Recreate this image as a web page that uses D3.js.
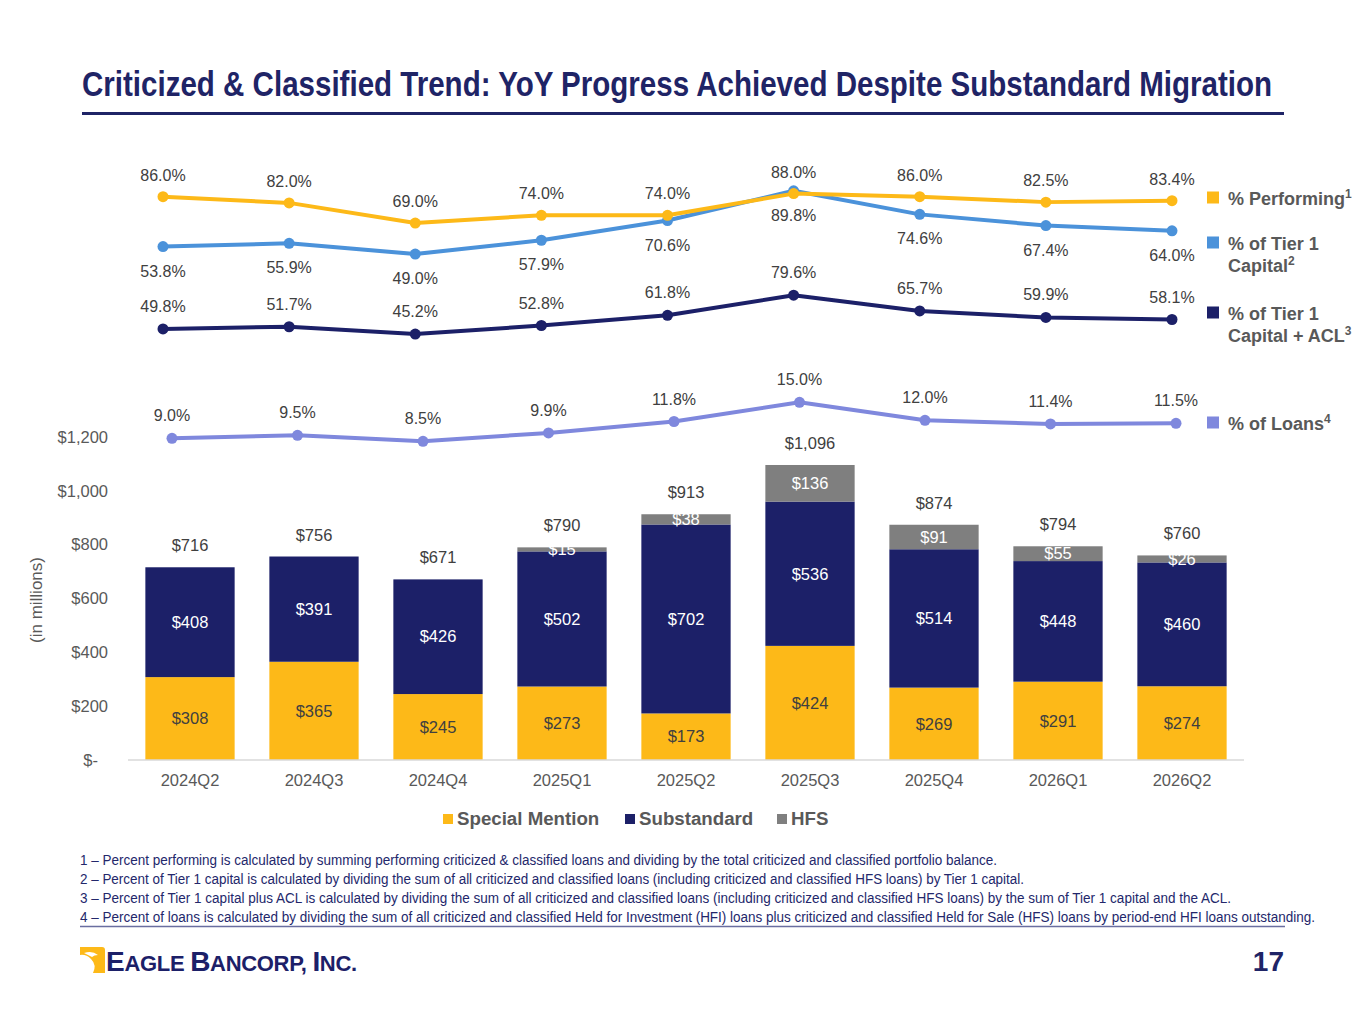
<!DOCTYPE html>
<html>
<head>
<meta charset="utf-8">
<script src="https://cdn.jsdelivr.net/npm/d3@7"></script>
<style>
  body { margin: 0; background: #fff; }
  svg { display: block; font-family: "Liberation Sans", Arial, sans-serif; }
</style>
</head>
<body>
<script>
// data
const quarters = ["2024Q2", "2024Q3", "2024Q4", "2025Q1", "2025Q2", "2025Q3", "2025Q4", "2026Q1", "2026Q2"];
const specialMention = [308, 365, 245, 273, 173, 424, 269, 291, 274];
const substandard = [408, 391, 426, 502, 702, 536, 514, 448, 460];
const hfs = [0, 0, 0, 15, 38, 136, 91, 55, 26];
const totals = [716, 756, 671, 790, 913, 1096, 874, 794, 760];

const pctPerforming = [86.0, 82.0, 69.0, 74.0, 74.0, 88.0, 86.0, 82.5, 83.4];
const pctTier1 = [53.8, 55.9, 49.0, 57.9, 70.6, 89.8, 74.6, 67.4, 64.0];
const pctTier1Acl = [49.8, 51.7, 45.2, 52.8, 61.8, 79.6, 65.7, 59.9, 58.1];
const pctLoans = [9.0, 9.5, 8.5, 9.9, 11.8, 15.0, 12.0, 11.4, 11.5];

const yTicks = [0, 200, 400, 600, 800, 1000, 1200];

const footnotes = [
  "1 \u2013 Percent performing is calculated by summing performing criticized & classified loans and dividing by the total criticized and classified portfolio balance.",
  "2 \u2013 Percent of Tier 1 capital is calculated by dividing the sum of all criticized and classified loans (including criticized and classified HFS loans) by Tier 1 capital.",
  "3 \u2013 Percent of Tier 1 capital plus ACL is calculated by dividing the sum of all criticized and classified loans (including criticized and classified HFS loans) by the sum of Tier 1 capital and the ACL.",
  "4 \u2013 Percent of loans is calculated by dividing the sum of all criticized and classified Held for Investment (HFI) loans plus criticized and classified Held for Sale (HFS) loans by period-end HFI loans outstanding."
];
const footWidths = [917, 944, 1151, 1235];

// colours
const navy = "#1c2068";
const gold = "#fdb918";
const grey = "#7f7f7f";
const blue = "#4b92da";
const lavender = "#7f88dd";
const textGrey = "#595959";
const labelGrey = "#404040";

const W = 1365, H = 1024;
const svg = d3.select("body").append("svg").attr("width", W).attr("height", H);

// title + rule
svg.append("text")
  .attr("x", 82).attr("y", 96)
  .attr("font-size", 35).attr("font-weight", "bold")
  .attr("fill", "#1f2466")
  .attr("textLength", 1190).attr("lengthAdjust", "spacingAndGlyphs")
  .text("Criticized & Classified Trend: YoY Progress Achieved Despite Substandard Migration");
svg.append("rect").attr("x", 82).attr("y", 112).attr("width", 1202).attr("height", 3).attr("fill", "#1f2466");

// ---------- stacked bars ----------
const x = d3.scaleBand().domain(quarters).range([128, 1244]).paddingInner(0.28).paddingOuter(0.14);
const y = d3.scaleLinear().domain([0, 1200]).range([760, 437]);

const barRows = quarters.map((q, i) => ({ q, sm: specialMention[i], sub: substandard[i], hfs: hfs[i], total: totals[i] }));
const keys = ["sm", "sub", "hfs"];
const fills = { sm: gold, sub: navy, hfs: grey };
const stacked = d3.stack().keys(keys)(barRows);

// y axis (labels only)
const yAxis = svg.append("g")
  .attr("transform", "translate(112,0)")
  .call(d3.axisLeft(y).tickValues(yTicks).tickSize(0).tickPadding(4)
    .tickFormat(d => d === 0 ? "$-" : "$" + d3.format(",")(d)));
yAxis.select(".domain").remove();
yAxis.selectAll("text").attr("font-size", 16.5).attr("fill", textGrey)
  .attr("font-family", "Liberation Sans, Arial, sans-serif")
  .attr("dx", d => d === 0 ? -10 : 0);

svg.append("text")
  .attr("transform", "translate(42,600) rotate(-90)")
  .attr("text-anchor", "middle").attr("font-size", 17).attr("fill", textGrey)
  .text("(in millions)");

const layers = svg.append("g").selectAll("g").data(stacked).join("g").attr("fill", d => fills[d.key]);
layers.selectAll("rect").data(d => d).join("rect")
  .attr("x", d => x(d.data.q))
  .attr("width", x.bandwidth())
  .attr("y", d => y(d[1]))
  .attr("height", d => y(d[0]) - y(d[1]));

// baseline
svg.append("line").attr("x1", 128).attr("x2", 1244).attr("y1", y(0)).attr("y2", y(0))
  .attr("stroke", "#d9d9d9").attr("stroke-width", 1.5);

// x axis labels
const xAxis = svg.append("g")
  .attr("transform", `translate(0,${y(0)})`)
  .call(d3.axisBottom(x).tickSize(0).tickPadding(14));
xAxis.select(".domain").remove();
xAxis.selectAll("text").attr("font-size", 16.5).attr("fill", textGrey)
  .attr("font-family", "Liberation Sans, Arial, sans-serif");

// segment labels
stacked.forEach(layer => {
  svg.append("g").selectAll("text")
    .data(layer.filter(d => d[1] - d[0] > 0))
    .join("text")
    .attr("x", d => x(d.data.q) + x.bandwidth() / 2)
    .attr("y", d => (y(d[0]) + y(d[1])) / 2)
    .attr("dy", "0.35em")
    .attr("text-anchor", "middle")
    .attr("font-size", 16.5)
    .attr("fill", layer.key === "sm" ? labelGrey : "#ffffff")
    .text(d => "$" + (d[1] - d[0]));
});

// totals
svg.append("g").selectAll("text").data(barRows).join("text")
  .attr("x", d => x(d.q) + x.bandwidth() / 2)
  .attr("y", d => y(d.total) - 16)
  .attr("text-anchor", "middle").attr("font-size", 16.5).attr("fill", labelGrey)
  .text(d => "$" + d3.format(",")(d.total));

// ---------- line panels ----------
const xp = d3.scalePoint().domain(quarters).range([163, 1172]);
const xl = d3.scalePoint().domain(quarters).range([172, 1176]);
const yTop = d3.scaleLinear().domain([40, 100]).range([268, 175]);
const yAcl = d3.scaleLinear().domain([40, 90]).range([340, 283.4]);
const yLoan = d3.scaleLinear().domain([8, 16]).range([444.3, 396.3]);

function drawLine(values, xs, ys, color) {
  const pts = values.map((v, i) => ({ q: quarters[i], v }));
  const g = svg.append("g");
  g.append("path").datum(pts)
    .attr("fill", "none").attr("stroke", color).attr("stroke-width", 4)
    .attr("stroke-linejoin", "round")
    .attr("d", d3.line().x(d => xs(d.q)).y(d => ys(d.v)));
  g.selectAll("circle").data(pts).join("circle")
    .attr("cx", d => xs(d.q)).attr("cy", d => ys(d.v)).attr("r", 5.5).attr("fill", color);
}

const lines = [
  { vals: pctTier1, xs: xp, ys: yTop, color: blue, dy: 30 },
  { vals: pctPerforming, xs: xp, ys: yTop, color: gold, dy: -16 },
  { vals: pctTier1Acl, xs: xp, ys: yAcl, color: navy, dy: -17 },
  { vals: pctLoans, xs: xl, ys: yLoan, color: lavender, dy: -17 }
];
lines.forEach(l => drawLine(l.vals, l.xs, l.ys, l.color));
lines.forEach(l => {
  svg.append("g").selectAll("text").data(l.vals).join("text")
    .attr("x", (d, i) => l.xs(quarters[i]))
    .attr("y", d => l.ys(d) + l.dy)
    .attr("text-anchor", "middle").attr("font-size", 16).attr("fill", labelGrey)
    .text(d => d.toFixed(1) + "%");
});

// right legend
const rightLegend = [
  { color: gold, y: 191.5, lines: [["% Performing", "1"]] },
  { color: blue, y: 236.5, lines: [["% of Tier 1", ""], ["Capital", "2"]] },
  { color: navy, y: 306.5, lines: [["% of Tier 1", ""], ["Capital + ACL", "3"]] },
  { color: lavender, y: 416.5, lines: [["% of Loans", "4"]] }
];
rightLegend.forEach(item => {
  svg.append("rect").attr("x", 1207).attr("y", item.y).attr("width", 12).attr("height", 12).attr("fill", item.color);
  item.lines.forEach((ln, j) => {
    const t = svg.append("text").attr("x", 1228).attr("y", item.y + 13.5 + j * 21.5)
      .attr("font-size", 18).attr("font-weight", "bold").attr("fill", textGrey);
    t.append("tspan").text(ln[0]);
    if (ln[1]) t.append("tspan").attr("dy", -7).attr("font-size", 12).text(ln[1]);
  });
});

// bottom legend
const bottomLegend = [
  { label: "Special Mention", color: gold, x: 443 },
  { label: "Substandard", color: navy, x: 625 },
  { label: "HFS", color: grey, x: 777 }
];
bottomLegend.forEach(item => {
  svg.append("rect").attr("x", item.x).attr("y", 814).attr("width", 10).attr("height", 10).attr("fill", item.color);
  svg.append("text").attr("x", item.x + 14).attr("y", 825)
    .attr("font-size", 18.7).attr("font-weight", "bold").attr("fill", textGrey).text(item.label);
});

// footnotes
svg.append("g").selectAll("text").data(footnotes).join("text")
  .attr("x", 80).attr("y", (d, i) => 865 + i * 19)
  .attr("font-size", 14).attr("fill", "#23276b")
  .attr("textLength", (d, i) => footWidths[i]).attr("lengthAdjust", "spacingAndGlyphs")
  .text(d => d);
svg.append("line").attr("x1", 80).attr("x2", 1285).attr("y1", 926.5).attr("y2", 926.5)
  .attr("stroke", "#6a6ea0").attr("stroke-width", 1.5);

// logo
const logo = svg.append("g");
logo.append("path")
  .attr("d", "M80,947 h22 q3,0 3,3 v23 h-12 q4,-8 -2,-14 q-5,-5 -11,-4 z")
  .attr("fill", gold);
logo.append("path")
  .attr("d", "M84,953 q8,-3 14,2 q-4,0 -6,2 z")
  .attr("fill", "#ffffff");
const lt = logo.append("text").attr("x", 106).attr("y", 971).attr("fill", navy)
  .attr("font-family", "Liberation Sans, Arial, sans-serif").attr("font-weight", "bold")
  .attr("letter-spacing", -0.3);
[["E", 28], ["AGLE ", 22], ["B", 28], ["ANCORP, ", 22], ["I", 28], ["NC.", 22]].forEach(p => {
  lt.append("tspan").attr("font-size", p[1]).text(p[0]);
});

// page number
svg.append("text").attr("x", 1284).attr("y", 971).attr("text-anchor", "end")
  .attr("font-size", 28).attr("font-weight", "bold").attr("fill", "#1f2466").text("17");
</script>
</body>
</html>
